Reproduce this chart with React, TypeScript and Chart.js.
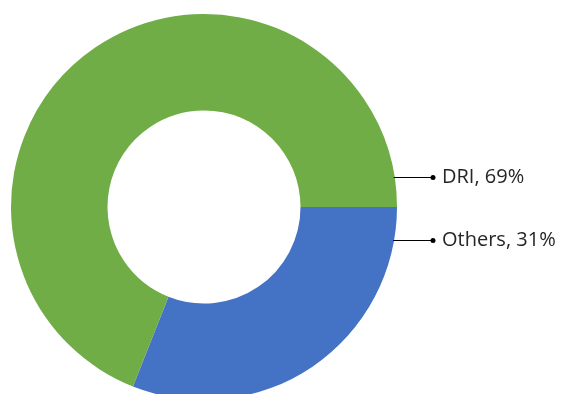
import React, { useEffect, useRef } from "react";
import { Chart, registerables } from "chart.js";

Chart.register(...registerables);

const categories = ["Others", "DRI"];
const shares = [31, 69];
const colors = ["#4472C4", "#70AD47"];

// label placement (styling): vertical offset of each leader line from the chart centre
const labelOffsetsY = [33, -30];

const leaderLabels = {
  id: "leaderLabels",
  afterDatasetsDraw(chart: any) {
    const ctx = chart.ctx;
    const meta = chart.getDatasetMeta(0);
    const arc0 = meta.data[0];
    const cx = arc0.x;
    const cy = arc0.y;
    const R = arc0.outerRadius;
    ctx.save();
    ctx.font = '20px "Open Sans", sans-serif';
    ctx.textBaseline = "middle";
    ctx.textAlign = "left";
    meta.data.forEach((arc: any, i: number) => {
      const y = Math.round(cy + labelOffsetsY[i]) + 0.5;
      const dy = y - cy;
      const xs = cx + Math.sqrt(R * R - dy * dy) - 1;
      const xe = cx + R + 36;
      ctx.strokeStyle = "#000";
      ctx.lineWidth = 1;
      ctx.beginPath();
      ctx.moveTo(xs, y);
      ctx.lineTo(xe, y);
      ctx.stroke();
      ctx.fillStyle = "#000";
      ctx.beginPath();
      ctx.arc(xe, y, 2.5, 0, Math.PI * 2);
      ctx.fill();
      ctx.fillStyle = "#262626";
      ctx.fillText(`${categories[i]}, ${shares[i]}%`, xe + 9, y);
    });
    ctx.restore();
  },
};

export default function App() {
  const ref = useRef<HTMLCanvasElement>(null);
  useEffect(() => {
    if (!ref.current) return;
    const chart = new Chart(ref.current, {
      type: "doughnut",
      data: {
        labels: categories,
        datasets: [
          {
            data: shares,
            backgroundColor: colors,
            borderWidth: 0,
          },
        ],
      },
      options: {
        animation: false,
        responsive: false,
        rotation: 90,
        cutout: "50%",
        layout: { padding: { left: 11, right: 164, top: 14, bottom: 14 } },
        plugins: {
          legend: { display: false },
          tooltip: { enabled: false },
        },
      },
      plugins: [leaderLabels],
    });
    return () => chart.destroy();
  }, []);
  return (
    <div
      style={{
        position: "fixed",
        left: 0,
        top: 0,
        width: 561,
        height: 394,
        overflow: "hidden",
        background: "#fff",
      }}
    >
      <canvas ref={ref} width={561} height={414} style={{ width: 561, height: 414 }} />
    </div>
  );
}
